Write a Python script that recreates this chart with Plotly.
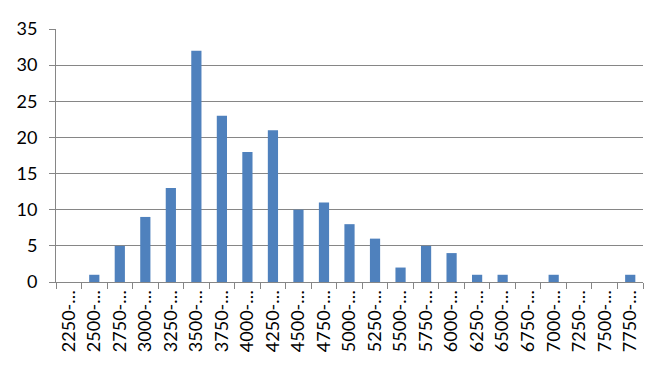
import plotly.graph_objects as go

categories = ["2250-…", "2500-…", "2750-…", "3000-…", "3250-…", "3500-…", "3750-…", "4000-…",
              "4250-…", "4500-…", "4750-…", "5000-…", "5250-…", "5500-…", "5750-…", "6000-…",
              "6250-…", "6500-…", "6750-…", "7000-…", "7250-…", "7500-…", "7750-…"]
values = [0, 1, 5, 9, 13, 32, 23, 18, 21, 10, 11, 8, 6, 2, 5, 4, 1, 1, 0, 1, 0, 0, 1]
y_ticks = [0, 5, 10, 15, 20, 25, 30, 35]

FONT = "Lato, Carlito, sans-serif"

fig = go.Figure(go.Bar(x=categories, y=values, marker_color="#4F81BD", marker_line_width=0))

fig.update_layout(
    width=664, height=389,
    margin=dict(l=56, r=21, t=29, b=107, autoexpand=False),
    plot_bgcolor="white", paper_bgcolor="white",
    bargap=0.6, showlegend=False,
    font=dict(family=FONT, size=18, color="#000000"),
)
fig.update_xaxes(
    type="category", tickangle=-90, tickson="boundaries", ticks="outside", ticklen=6,
    tickcolor="#868686", showline=True, linecolor="#868686", linewidth=1,
    showgrid=False, tickfont=dict(family=FONT, size=18), automargin=False,
)
fig.update_yaxes(
    range=[0, 35], tickvals=y_ticks, ticks="outside", ticklen=6, tickcolor="#868686",
    showline=True, linecolor="#868686", linewidth=1, automargin=False,
    showgrid=True, gridcolor="#868686", gridwidth=1, zeroline=False,
    tickfont=dict(family=FONT, size=18), ticklabelstandoff=8,
)

fig.write_html("out.html")
